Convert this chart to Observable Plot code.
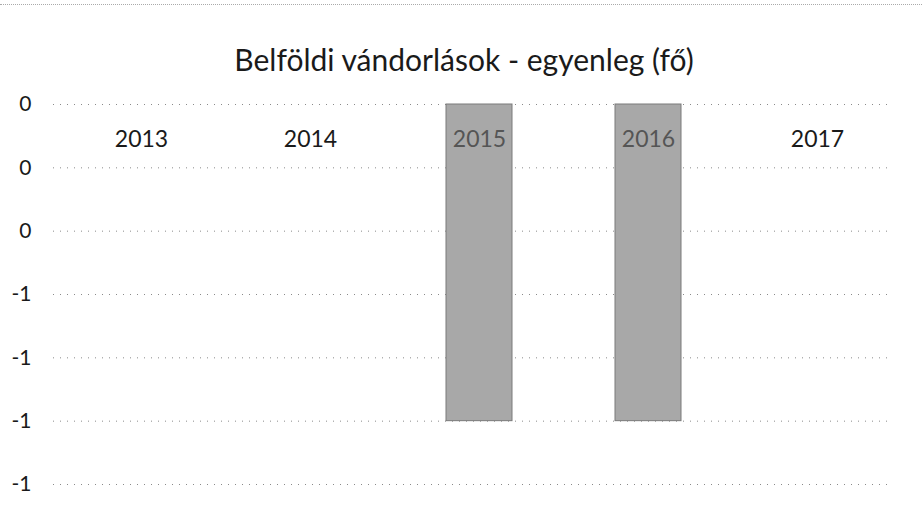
<!DOCTYPE html>
<html><head><meta charset="utf-8">
<script src="https://cdn.jsdelivr.net/npm/d3@7"></script>
<script src="https://cdn.jsdelivr.net/npm/@observablehq/plot@0.6"></script>
<style>
body{margin:0;background:#fff;font-family:Lato,"Open Sans",sans-serif;}
#wrap{width:922px;height:513px;position:relative;overflow:hidden;}
#border{position:absolute;left:0;top:4px;width:922px;border-top:1px dotted #aaa;}
#title{height:80px;box-sizing:border-box;padding-top:42px;text-align:center;font-size:30px;color:#1a1a1a;line-height:34px;padding-left:6px;}
</style></head>
<body><div id="wrap"><div id="border"></div><div id="title">Belföldi vándorlások - egyenleg (fő)</div><div id="chart"></div></div>
<script>
const years = ["2013","2014","2015","2016","2017"];
const balance = [0, 0, -1, -1, 0];
const yTicks = [0, -0.2, -0.4, -0.6, -0.8, -1.0, -1.2];
const data = years.map((y,i)=>({year:y, value:balance[i]}));
const chart = Plot.plot({
  width: 922, height: 433,
  marginTop: 24, marginBottom: 29, marginLeft: 55, marginRight: 20,
  style:{fontFamily:"Lato, 'Open Sans', sans-serif", fontSize:"21px", color:"#1a1a1a", background:"#fff"},
  x:{domain: years, paddingInner: 0.61, paddingOuter: 0.305, axis: null},
  y:{domain:[-1.2, 0], ticks: yTicks},
  marks:[
    Plot.ruleY(yTicks, {y: d=>d, insetLeft: -2, insetRight: 12, stroke:"#8a8a8a", strokeWidth:1, strokeDasharray:"1,6"}),
    Plot.axisY({ticks: yTicks, tickSize:0, tickPadding: 24, label:null, anchor:"left", textAnchor:"end", tickFormat: d=>String(Math.round(d)===0?0:Math.round(d)), fontSize:21, fill:"#1a1a1a"}),
    Plot.barY(data, {x:"year", y:"value", fill:"#a8a8a8", stroke:"#7a7a7a", strokeWidth:1}),
    Plot.text(data, {x:"year", y: ()=>0, dy: 35, text:"year", fontSize:23, fill: d=> d.value<0 ? "#555" : "#1a1a1a"})
  ]
});
document.getElementById("chart").appendChild(chart);
</script></body></html>
